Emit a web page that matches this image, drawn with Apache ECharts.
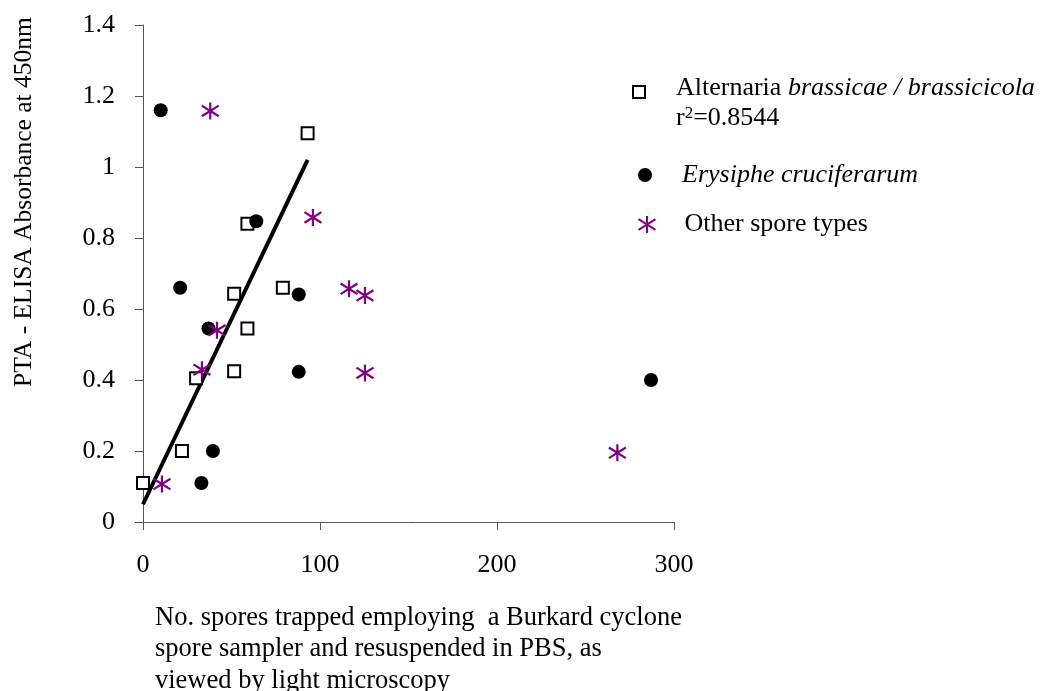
<!DOCTYPE html>
<html>
<head>
<meta charset="utf-8">
<script src="https://cdn.jsdelivr.net/npm/echarts@6/dist/echarts.min.js"></script>
<style>html,body{margin:0;padding:0;background:#fff}#c{width:1046px;height:691px}</style>
</head>
<body>
<div id="c"></div>
<script>
// Data
var alternaria = [[0,0.11],[22,0.20],[30,0.405],[51.5,0.425],[51.5,0.643],[59,0.545],[59,0.84],[79,0.66],[93,1.095]];
var erysiphe = [[10,1.16],[21,0.66],[37,0.545],[39.5,0.20],[33,0.11],[64,0.847],[88,0.641],[88,0.423],[287,0.40]];
var otherSpores = [[38,1.158],[10.7,0.107],[33.3,0.429],[41.8,0.54],[96,0.858],[116.4,0.657],[125.4,0.638],[125.4,0.42],[268,0.195]];
var trendLine = [[0,0.05],[93,1.02]];
var xTicks = [0,100,200,300];
var yTicks = [0,0.2,0.4,0.6,0.8,1,1.2,1.4];

var FONT = '"Liberation Serif", "DejaVu Serif", serif';
var FS = 26;
var STAR = 'path://M8,0L8,16M0,3L16,13M0,13L16,3';
var chart = echarts.init(document.getElementById('c'));
var legendBase = {
  orient: 'vertical', selectedMode: false
};
chart.setOption({
  animation: false,
  backgroundColor: '#fff',
  grid: {left: 143, top: 25, right: 372, bottom: 169, containLabel: false},
  xAxis: {
    type: 'value', min: xTicks[0], max: xTicks[xTicks.length-1], interval: 100,
    axisLine: {lineStyle: {color: '#555', width: 1}},
    axisTick: {show: true, inside: false, length: 8, lineStyle: {color: '#555'}},
    axisLabel: {margin: 30, fontFamily: FONT, fontSize: FS, color: '#000'},
    splitLine: {show: false}
  },
  yAxis: {
    type: 'value', min: yTicks[0], max: yTicks[yTicks.length-1], interval: 0.2,
    axisLine: {show: true, lineStyle: {color: '#555', width: 1}},
    axisTick: {show: true, inside: false, length: 8, lineStyle: {color: '#555'}},
    axisLabel: {margin: 28, fontFamily: FONT, fontSize: FS, color: '#000',
      formatter: function(v){ return String(Math.round(v*10)/10); }},
    splitLine: {show: false}
  },
  legend: [
    Object.assign({}, legendBase, {left: 627, top: 70, itemWidth: 12, itemHeight: 12, data: ['Alternaria'],
      formatter: function(){ return '{n|Alternaria }{i|brassicae / brassicicola}'; },
      textStyle: {fontFamily: FONT, fontSize: FS, color: '#000', padding: [0,0,8,26],
        rich: {n: {fontFamily: FONT, fontSize: FS}, i: {fontFamily: FONT, fontSize: FS, fontStyle: 'italic'}}}}),
    Object.assign({}, legendBase, {left: 633, top: 157, itemWidth: 14, itemHeight: 14, data: ['Erysiphe'],
      formatter: function(){ return 'Erysiphe cruciferarum'; },
      textStyle: {fontFamily: FONT, fontSize: FS, color: '#000', fontStyle: 'italic', padding: [0,0,2,25]}}),
    Object.assign({}, legendBase, {left: 631, top: 206.5, itemWidth: 17, itemHeight: 17, data: ['Other'],
      formatter: function(){ return 'Other spore types'; },
      textStyle: {fontFamily: FONT, fontSize: FS, color: '#000', padding: [0,0,9,24]}})
  ],
  graphic: [
    {type: 'text', left: 676, top: 105, style: {
      text: '{n|r}{s|2}{n|=0.8544}', fill: '#000',
      rich: {n: {fontFamily: FONT, fontSize: FS, fill: '#000'}, s: {fontFamily: FONT, fontSize: 17, fill: '#000', padding: [0,0,10,0]}}}},
    {type: 'text', x: 24, y: 202, rotation: Math.PI/2, style: {
      text: 'PTA - ELISA Absorbance at 450nm', font: '25.5px ' + FONT, fill: '#000', align: 'center', verticalAlign: 'middle'}},
    {type: 'text', left: 155, top: 602, style: {
      text: 'No. spores trapped employing  a Burkard cyclone\nspore sampler and resuspended in PBS, as\nviewed by light microscopy',
      font: '26.5px ' + FONT, fill: '#000', lineHeight: 31.5}}
  ],
  series: [
    {name: 'Trend', type: 'line', data: trendLine, symbol: 'none', silent: true,
      lineStyle: {color: '#000', width: 4}, z: 1},
    {name: 'Alternaria', type: 'scatter', data: alternaria, symbol: 'rect', symbolSize: 12,
      itemStyle: {color: '#fff', borderColor: '#000', borderWidth: 2, opacity: 1}, z: 3},
    {name: 'Erysiphe', type: 'scatter', data: erysiphe, symbol: 'circle', symbolSize: 14,
      itemStyle: {color: '#000', opacity: 1}, z: 3},
    {name: 'Other', type: 'scatter', data: otherSpores, symbol: STAR, symbolSize: 17,
      itemStyle: {color: 'none', borderColor: '#800080', borderWidth: 2.2, opacity: 1}, z: 3}
  ]
});
</script>
</body>
</html>
